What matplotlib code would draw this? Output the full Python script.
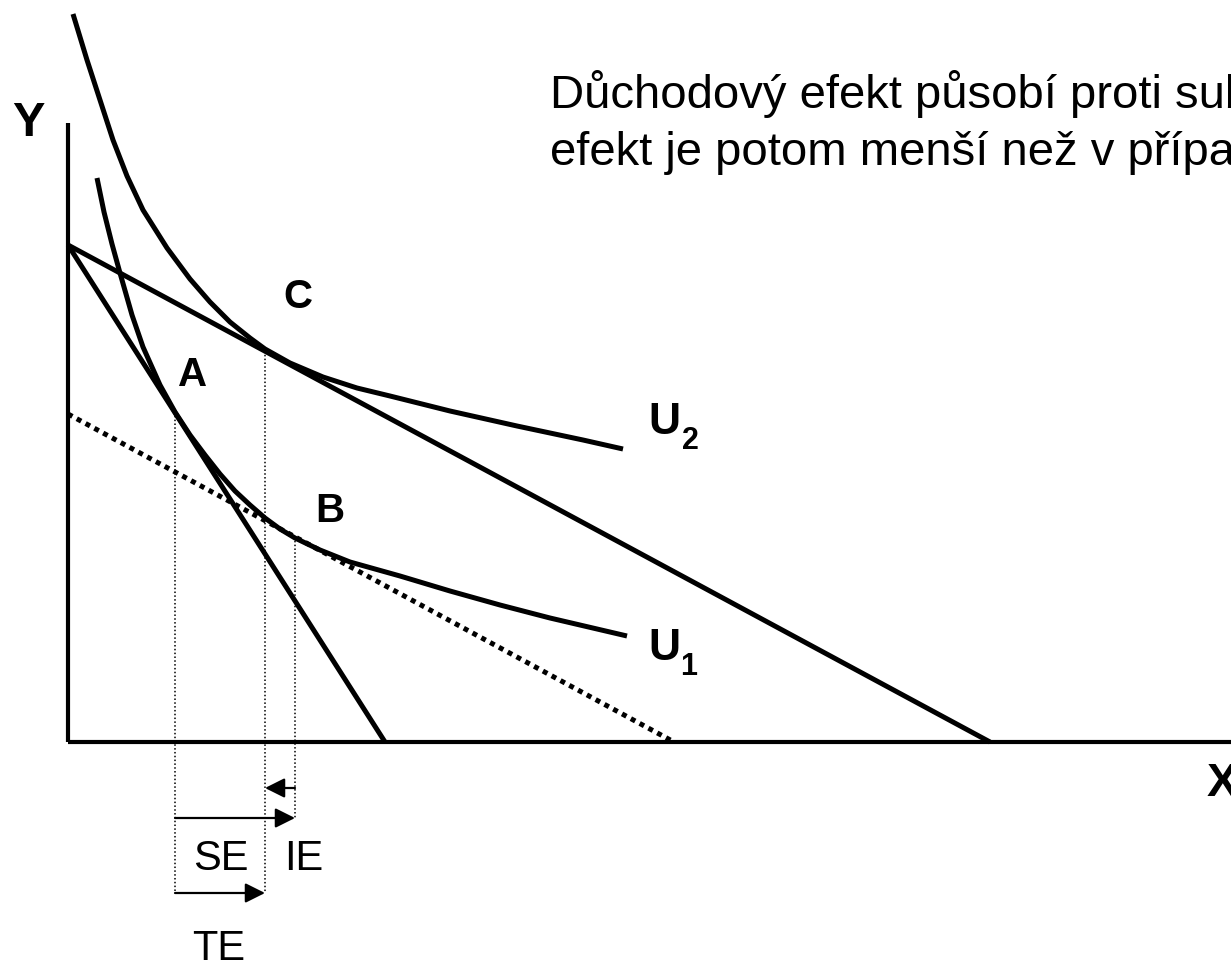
import matplotlib
matplotlib.use('Agg')
import matplotlib.pyplot as plt

# coordinates: origin = corner of the axes, units ~ pixels of the 1231x961 picture
u1_x = [29, 36, 44, 52, 64, 75, 92, 107, 122, 137, 152, 167, 182, 197, 212, 227,
        252, 282, 332, 382, 432, 482, 559]
u1_y = [564, 530, 498, 469, 427, 395, 357, 330, 307, 287, 268, 251, 237, 224, 213, 204,
        192, 180, 166, 151, 137, 124, 106]

u2_x = [5, 19, 32, 45, 59, 75, 99, 122, 142, 162, 182, 197, 222, 255, 289, 322,
        382, 449, 515, 555]
u2_y = [728, 682, 642, 602, 566, 532, 494, 463, 440, 420, 404, 393, 379, 365, 354, 346,
        331, 316, 302, 293]

budget_old_x = [0, 317]
budget_old_y = [497, 0]
budget_new_x = [0, 922]
budget_new_y = [497, 0]
budget_comp_x = [0, 606]
budget_comp_y = [328, 0]

# optimum points A, B, C (x, y) and how far their guide lines go down
point_names = ['A', 'B', 'C']
point_x = [107, 227, 197]
point_y = [330, 205, 391]
guide_bottom = [-151, -76, -151]

# effect arrows: (label, start x, end x, y)
effects = [('SE', 107, 227, -76), ('IE', 227, 197, -46), ('TE', 107, 197, -151)]

text_lines = ['Důchodový efekt působí proti substitučnímu,',
              'efekt je potom menší než v případě']

plt.rcParams['font.family'] = ['Liberation Sans', 'DejaVu Sans']

fig = plt.figure(figsize=(12.31, 9.61), dpi=100)
ax = fig.add_axes([0, 0, 1, 1])
ax.set_xlim(-68, 1163)
ax.set_ylim(-219, 742)
ax.axis('off')

# axes of the diagram
ax.plot([0, 0], [0, 619], color='black', lw=3.0, solid_capstyle='butt')
ax.plot([0, 1163], [0, 0], color='black', lw=3.0, solid_capstyle='butt')

# budget lines
ax.plot(budget_old_x, budget_old_y, color='black', lw=3.6, solid_capstyle='butt')
ax.plot(budget_new_x, budget_new_y, color='black', lw=3.6, solid_capstyle='butt')
ax.plot(budget_comp_x, budget_comp_y, color='black', lw=3.6,
        linestyle=(0, (1, 1)), dash_capstyle='butt')

# indifference curves
ax.plot(u1_x, u1_y, color='black', lw=3.6, solid_capstyle='butt', solid_joinstyle='round')
ax.plot(u2_x, u2_y, color='black', lw=3.6, solid_capstyle='butt', solid_joinstyle='round')

# guide lines from the optimum points
for px, py, pb in zip(point_x, point_y, guide_bottom):
    ax.plot([px, px], [py, pb], color='black', lw=1.1, linestyle=(0, (1, 1.5)))

for name, x0, x1, y in effects:
    ax.annotate('', xy=(x1, y), xytext=(x0, y),
                arrowprops=dict(arrowstyle='-|>,head_length=0.6,head_width=0.3',
                                mutation_scale=20, lw=1.6, color='black',
                                shrinkA=0, shrinkB=0))

ax.text(153, -117, 'SE', fontsize=30, ha='center', va='center')
ax.text(236, -117, 'IE', fontsize=30, ha='center', va='center')
ax.text(151, -207, 'TE', fontsize=30, ha='center', va='center')

ax.text(125, 367, 'A', fontsize=29, fontweight='bold', ha='center', va='center')
ax.text(262, 231, 'B', fontsize=29, fontweight='bold', ha='center', va='center')
ax.text(230, 445, 'C', fontsize=29, fontweight='bold', ha='center', va='center')

ax.text(-40, 619, 'Y', fontsize=35, fontweight='bold', ha='center', va='center')
ax.text(1139, -42, 'X', fontsize=34, fontweight='bold', ha='left', va='center')

ax.text(596, 319, 'U', fontsize=32, fontweight='bold', ha='center', va='center')
ax.text(622, 301, '2', fontsize=22, fontweight='bold', ha='center', va='center')
ax.text(596, 94, 'U', fontsize=32, fontweight='bold', ha='center', va='center')
ax.text(621, 75, '1', fontsize=22, fontweight='bold', ha='center', va='center')

ax.text(482, 634, text_lines[0], fontsize=34, ha='left', va='baseline')
ax.text(482, 577, text_lines[1], fontsize=34, ha='left', va='baseline')

fig.savefig('out.png', dpi=100)
